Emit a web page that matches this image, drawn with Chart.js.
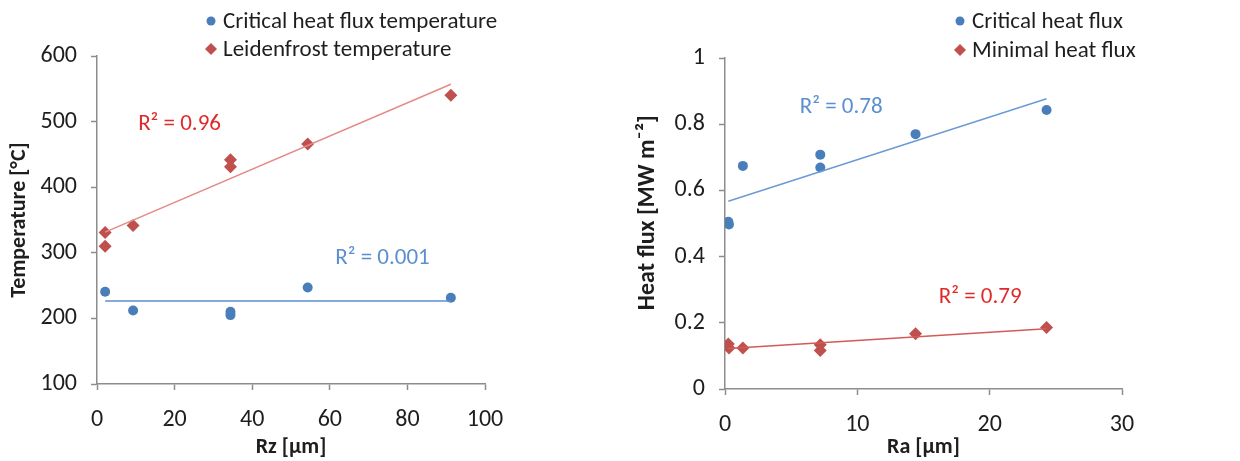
<!DOCTYPE html>
<html>
<head>
<meta charset="utf-8">
<script src="https://cdn.jsdelivr.net/npm/chart.js@4"></script>
<style>
  html, body { margin: 0; padding: 0; background: #fff; }
  .wrap { position: absolute; top: 0; width: 620px; height: 461px; }
  #w1 { left: 0; }
  #w2 { left: 620px; }
</style>
</head>
<body>
<div class="wrap" id="w1"><canvas id="c1" width="620" height="461"></canvas></div>
<div class="wrap" id="w2"><canvas id="c2" width="620" height="461"></canvas></div>
<script>
// left chart: temperatures vs Rz
const rzChf = [2.1, 9.3, 34.4, 34.4, 54.3, 91.2];
const tChf = [240.5, 212, 210, 205, 247, 231.5];
const rzLeid = [2.1, 2.1, 9.3, 34.4, 34.4, 54.3, 91.2];
const tLeid = [331, 310, 341.5, 442, 431, 466, 540];
const trendChfX = [2.1, 91.2];
const trendChfY = [226.5, 226.5];
const trendLeidX = [2.1, 91.2];
const trendLeidY = [331.5, 557];
const r2Left = ['R² = 0.001', 'R² = 0.96'];

// right chart: heat flux vs Ra
const raChf = [0.25, 0.3, 1.35, 7.2, 7.2, 14.4, 24.3];
const qChf = [0.505, 0.497, 0.674, 0.708, 0.669, 0.770, 0.843];
const raMhf = [0.25, 0.3, 1.35, 7.2, 7.2, 14.4, 24.3];
const qMhf = [0.136, 0.124, 0.124, 0.134, 0.116, 0.167, 0.186];
const trendQChfX = [0.25, 24.3];
const trendQChfY = [0.567, 0.877];
const trendQMhfX = [0.25, 24.3];
const trendQMhfY = [0.122, 0.182];
const r2Right = ['R² = 0.78', 'R² = 0.79'];

const FONT = 'Carlito, Calibri, Lato, "Open Sans", sans-serif';
const BLUE = '#4a7ebb';
const RED = '#c0504d';
const AXIS = '#8c8c8c';
const TXT = '#1e1e1e';

const pts = (xs, ys) => xs.map((x, i) => ({ x: x, y: ys[i] }));

function scatterSet(label, xs, ys, color, style, r) {
  return { label: label, data: pts(xs, ys), showLine: false, pointStyle: style,
    pointRadius: r, pointHoverRadius: r, backgroundColor: color, borderColor: color, borderWidth: 0 };
}
function trendSet(xs, ys, color) {
  return { label: '', data: pts(xs, ys), showLine: true, pointRadius: 0,
    borderColor: color, borderWidth: 1.5, fill: false };
}

// legend + R² labels drawn on the canvas
function annot(legendItems, notes) {
  return {
    id: 'annot',
    afterDraw(chart) {
      const ctx = chart.ctx;
      ctx.save();
      ctx.font = '23px ' + FONT;
      ctx.textBaseline = 'middle';
      legendItems.forEach(it => {
        ctx.fillStyle = it.color;
        ctx.beginPath();
        if (it.style === 'circle') {
          ctx.arc(it.x, it.y, 4.5, 0, Math.PI * 2);
        } else {
          ctx.moveTo(it.x, it.y - 6); ctx.lineTo(it.x + 6, it.y);
          ctx.lineTo(it.x, it.y + 6); ctx.lineTo(it.x - 6, it.y);
          ctx.closePath();
        }
        ctx.fill();
        ctx.fillStyle = TXT;
        ctx.fillText(it.text, it.x + 12, it.y + 1);
      });
      const xs = chart.scales.x, ys = chart.scales.y;
      notes.forEach(n => {
        ctx.fillStyle = n.color;
        ctx.fillText(n.text, xs.getPixelForValue(n.x), ys.getPixelForValue(n.y));
      });
      ctx.restore();
    }
  };
}

function axisOpts(min, max, step, title, fixedSize, isY, titleSize) {
  return {
    type: 'linear', min: min, max: max,
    afterFit(s) { if (isY) s.width = fixedSize; else s.height = fixedSize; },
    border: { display: true, color: AXIS, width: 1.5 },
    grid: { display: true, drawOnChartArea: false, drawTicks: true, tickLength: 6, tickColor: AXIS, tickWidth: 1.5 },
    ticks: { stepSize: step, color: TXT, font: { family: FONT, size: 24 }, padding: isY ? 14 : 16,
      callback: v => String(Math.round(v * 10) / 10) },
    title: { display: true, text: title, color: TXT, font: { family: FONT, size: titleSize || 22, weight: 'bold' },
      padding: { top: 0, bottom: 0 } }
  };
}

function baseOptions(pad, xAxis, yAxis) {
  return {
    responsive: false, animation: false, events: [],
    layout: { padding: pad },
    plugins: { legend: { display: false }, tooltip: { enabled: false } },
    scales: { x: xAxis, y: yAxis }
  };
}

new Chart(document.getElementById('c1'), {
  type: 'scatter',
  data: { datasets: [
    trendSet(trendChfX, trendChfY, '#5b8fd0'),
    trendSet(trendLeidX, trendLeidY, '#e58a86'),
    scatterSet('Critical heat flux temperature', rzChf, tChf, BLUE, 'circle', 5),
    scatterSet('Leidenfrost temperature', rzLeid, tLeid, RED, 'rectRot', 6.5)
  ] },
  options: baseOptions({ top: 56, right: 135, left: 6, bottom: 0 },
    axisOpts(0, 100, 20, 'Rz [µm]', 77, false),
    axisOpts(100, 600, 100, 'Temperature [°C]', 91, true)),
  plugins: [annot([
    { x: 211, y: 21, style: 'circle', color: BLUE, text: 'Critical heat flux temperature' },
    { x: 211, y: 49, style: 'diamond', color: RED, text: 'Leidenfrost temperature' }
  ], [
    { x: 61.4, y: 292, color: '#5b8fd0', text: r2Left[0] },
    { x: 10.6, y: 496, color: '#e02a2a', text: r2Left[1] }
  ])]
});

new Chart(document.getElementById('c2'), {
  type: 'scatter',
  data: { datasets: [
    trendSet(trendQChfX, trendQChfY, '#6b9bd6'),
    trendSet(trendQMhfX, trendQMhfY, '#d45a56'),
    scatterSet('Critical heat flux', raChf, qChf, BLUE, 'circle', 5),
    scatterSet('Minimal heat flux', raMhf, qMhf, RED, 'rectRot', 6.5)
  ] },
  options: baseOptions({ top: 58, right: 118, left: 14, bottom: 0 },
    axisOpts(0, 30, 10, 'Ra [µm]', 72, false),
    axisOpts(0, 1, 0.2, '    Heat flux [MW m⁻²]', 91, true, 24)),
  plugins: [annot([
    { x: 340, y: 21, style: 'circle', color: BLUE, text: 'Critical heat flux' },
    { x: 340, y: 50, style: 'diamond', color: RED, text: 'Minimal heat flux' }
  ], [
    { x: 5.65, y: 0.85, color: '#5b8fd0', text: r2Right[0] },
    { x: 16.15, y: 0.277, color: '#e02a2a', text: r2Right[1] }
  ])]
});
</script>
</body>
</html>
